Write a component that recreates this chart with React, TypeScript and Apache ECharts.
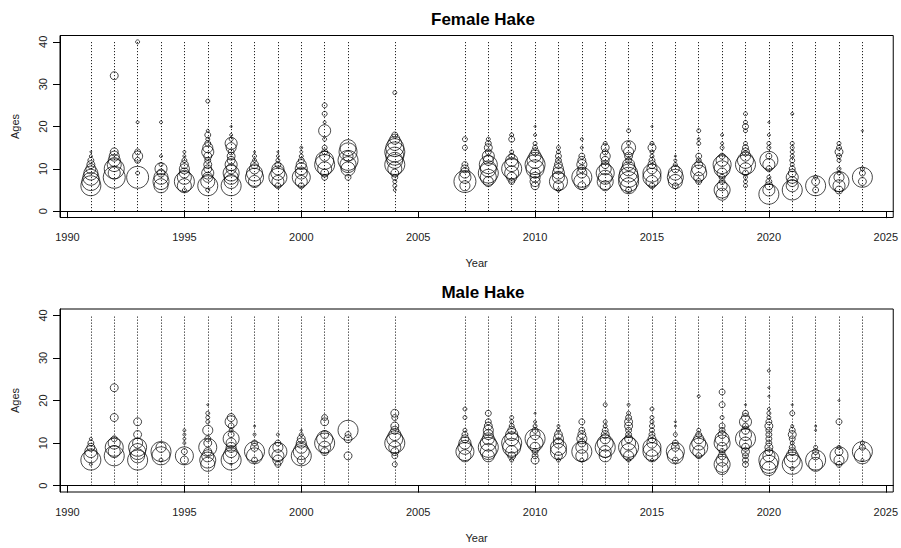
import React, { useEffect, useRef } from "react";
import * as echarts from "echarts";

type YearComp = [number, [number, number][]];

const xTicks = [1990, 1995, 2000, 2005, 2010, 2015, 2020, 2025];
const yTicks = [0, 10, 20, 30, 40];
const lineYears = [1991, 1992, 1993, 1994, 1995, 1996, 1997, 1998, 1999, 2000, 2001, 2002, 2004,
  2007, 2008, 2009, 2010, 2011, 2012, 2013, 2014, 2015, 2016, 2017, 2018, 2019, 2020, 2021, 2022, 2023, 2024];

// [year, [[age, proportion], ...]]
const femaleComps: YearComp[] = [
  [1991, [[6, .227], [7, .184], [8, .145], [9, .111], [10, .057], [11, .036], [12, .02], [13, .005], [14, .002]]],
  [1992, [[8, .274], [9, .082], [10, .227], [11, .111], [12, .082], [13, .057], [14, .036], [32, .036]]],
  [1993, [[8, .274], [9, .009], [12, .02], [13, .057], [14, .02], [21, .005], [40, .009]]],
  [1994, [[6, .111], [7, .145], [8, .111], [9, .036], [10, .082], [11, .009], [13, .005], [21, .005]]],
  [1995, [[5, .009], [6, .111], [7, .227], [8, .111], [9, .057], [10, .057], [11, .036], [12, .014], [13, .005], [14, .005]]],
  [1996, [[5, .009], [6, .227], [7, .111], [8, .057], [9, .082], [10, .036], [11, .036], [12, .02], [13, .036], [14, .082], [15, .057], [16, .02], [17, .009], [18, .02], [19, .005], [26, .009]]],
  [1997, [[6, .227], [7, .111], [8, .111], [9, .145], [10, .057], [11, .082], [12, .036], [13, .036], [14, .02], [15, .057], [16, .082], [17, .009], [18, .005], [20, .002]]],
  [1998, [[7, .082], [8, .184], [9, .145], [10, .057], [11, .036], [12, .009], [13, .009], [14, .002]]],
  [1999, [[6, .02], [7, .082], [8, .184], [9, .111], [10, .082], [11, .02], [12, .009], [13, .005], [14, .002]]],
  [2000, [[6, .02], [7, .082], [8, .184], [9, .082], [10, .082], [11, .057], [12, .02], [13, .009], [14, .005], [15, .005]]],
  [2001, [[8, .02], [9, .036], [10, .111], [11, .227], [12, .184], [13, .057], [14, .02], [15, .014], [17, .009], [19, .082], [21, .005], [23, .014], [25, .014]]],
  [2002, [[8, .02], [10, .111], [11, .145], [12, .227], [13, .057], [14, .184], [15, .145]]],
  [2004, [[5, .005], [6, .009], [7, .009], [8, .02], [9, .036], [10, .111], [11, .227], [12, .145], [13, .184], [14, .227], [15, .184], [16, .111], [17, .057], [18, .02], [28, .009]]],
  [2007, [[6, .057], [7, .274], [8, .082], [9, .057], [10, .036], [11, .02], [15, .014], [17, .014]]],
  [2008, [[7, .057], [8, .145], [9, .227], [10, .145], [11, .184], [12, .057], [13, .082], [14, .02], [15, .036], [16, .02], [17, .009]]],
  [2009, [[7, .02], [8, .057], [9, .111], [10, .227], [11, .111], [12, .082], [13, .02], [14, .009], [17, .02], [18, .009]]],
  [2010, [[6, .036], [7, .057], [8, .057], [9, .057], [10, .184], [11, .227], [12, .145], [13, .082], [14, .036], [15, .014], [16, .009], [18, .005], [20, .002]]],
  [2011, [[5, .009], [6, .057], [7, .184], [8, .082], [9, .082], [10, .057], [11, .036], [12, .02], [13, .02], [14, .009], [15, .009]]],
  [2012, [[6, .036], [7, .145], [8, .227], [9, .057], [10, .036], [11, .057], [12, .036], [13, .02], [15, .005], [17, .005]]],
  [2013, [[6, .057], [7, .145], [8, .111], [9, .184], [10, .082], [11, .036], [12, .036], [13, .057], [14, .02], [15, .036], [16, .009]]],
  [2014, [[5, .02], [6, .145], [7, .227], [8, .227], [9, .184], [10, .111], [11, .082], [12, .02], [13, .036], [14, .057], [15, .111], [16, .009], [19, .009]]],
  [2015, [[6, .02], [7, .082], [8, .184], [9, .184], [10, .057], [11, .036], [12, .02], [13, .009], [14, .009], [15, .036], [16, .009], [20, .002]]],
  [2016, [[6, .02], [7, .111], [8, .145], [9, .111], [10, .036], [11, .009], [12, .005], [13, .002]]],
  [2017, [[7, .02], [8, .057], [9, .145], [10, .111], [11, .036], [12, .014], [13, .02], [16, .009], [17, .005], [19, .009]]],
  [2018, [[4, .082], [5, .145], [6, .057], [7, .02], [8, .02], [9, .057], [10, .145], [11, .184], [12, .082], [13, .02], [15, .009], [16, .005], [18, .005]]],
  [2019, [[6, .009], [7, .009], [8, .009], [9, .02], [10, .082], [11, .227], [12, .145], [13, .057], [14, .036], [15, .02], [16, .009], [19, .009], [20, .02], [21, .009], [23, .009]]],
  [2020, [[4, .227], [5, .082], [6, .036], [7, .02], [8, .009], [10, .02], [11, .082], [12, .184], [13, .02], [15, .009], [16, .009], [18, .005], [21, .002]]],
  [2021, [[5, .227], [6, .082], [7, .057], [8, .082], [9, .036], [10, .02], [11, .009], [12, .014], [13, .009], [14, .009], [15, .009], [16, .009], [23, .005]]],
  [2022, [[5, .02], [6, .227], [7, .036], [8, .009]]],
  [2023, [[5, .036], [6, .082], [7, .227], [8, .057], [9, .009], [10, .009], [12, .009], [13, .014], [14, .036], [15, .014], [16, .009]]],
  [2024, [[7, .036], [8, .227], [9, .02], [10, .009], [19, .002]]],
];

const maleComps: YearComp[] = [
  [1991, [[5, .005], [6, .227], [7, .111], [8, .082], [9, .036], [10, .02], [11, .005]]],
  [1992, [[7, .227], [8, .082], [9, .184], [10, .082], [11, .02], [16, .036], [23, .036]]],
  [1993, [[6, .227], [7, .111], [8, .145], [9, .184], [10, .057], [12, .036], [15, .036]]],
  [1994, [[6, .009], [7, .184], [8, .227], [9, .057]]],
  [1995, [[6, .036], [7, .184], [8, .02], [10, .005], [11, .005], [12, .005], [13, .005]]],
  [1996, [[5, .111], [6, .145], [7, .082], [8, .036], [9, .184], [10, .036], [11, .02], [13, .057], [15, .009], [16, .009], [17, .009], [19, .002]]],
  [1997, [[5, .002], [6, .227], [7, .145], [8, .082], [9, .057], [10, .057], [11, .145], [12, .02], [13, .009], [14, .02], [15, .082], [16, .036]]],
  [1998, [[6, .02], [7, .145], [8, .227], [9, .036], [10, .02], [12, .005], [14, .002]]],
  [1999, [[5, .02], [6, .057], [7, .082], [8, .184], [9, .057], [10, .02], [12, .005]]],
  [2000, [[6, .036], [7, .227], [8, .145], [9, .082], [10, .057], [11, .036], [12, .009], [13, .002]]],
  [2001, [[8, .036], [9, .082], [10, .227], [11, .145], [12, .036], [15, .036], [16, .02]]],
  [2002, [[7, .036], [11, .036], [12, .02], [13, .227]]],
  [2004, [[5, .014], [7, .02], [8, .036], [9, .082], [10, .227], [11, .145], [12, .082], [13, .036], [14, .036], [16, .02], [17, .036]]],
  [2007, [[7, .082], [8, .184], [9, .111], [10, .082], [11, .036], [12, .02], [13, .009], [16, .009], [18, .009]]],
  [2008, [[7, .082], [8, .145], [9, .227], [10, .145], [11, .082], [12, .057], [13, .057], [14, .036], [15, .02], [17, .02]]],
  [2009, [[6, .009], [7, .036], [8, .082], [9, .184], [10, .227], [11, .111], [12, .082], [13, .036], [14, .014], [15, .009], [16, .009]]],
  [2010, [[6, .036], [7, .02], [8, .02], [9, .057], [10, .145], [11, .227], [12, .057], [13, .02], [14, .009], [15, .005], [17, .002]]],
  [2011, [[6, .009], [7, .036], [8, .145], [9, .145], [10, .057], [11, .057], [12, .036], [13, .009], [14, .005]]],
  [2012, [[6, .009], [7, .082], [8, .227], [9, .082], [10, .036], [11, .057], [12, .036], [13, .02], [15, .02]]],
  [2013, [[7, .082], [8, .082], [9, .227], [10, .145], [11, .057], [12, .036], [13, .02], [14, .009], [15, .009], [19, .009]]],
  [2014, [[6, .009], [7, .057], [8, .145], [9, .227], [10, .111], [11, .036], [12, .02], [13, .02], [14, .036], [15, .036], [16, .02], [17, .009], [19, .005]]],
  [2015, [[6, .005], [7, .082], [8, .184], [9, .184], [10, .057], [11, .036], [12, .02], [13, .014], [14, .014], [15, .009], [16, .009], [18, .009]]],
  [2016, [[6, .02], [7, .145], [8, .184], [9, .036], [10, .02], [12, .009], [14, .002], [15, .002]]],
  [2017, [[7, .02], [8, .082], [9, .184], [10, .111], [11, .057], [12, .02], [13, .009], [21, .005]]],
  [2018, [[4, .082], [5, .145], [6, .082], [7, .036], [8, .02], [9, .057], [10, .145], [11, .111], [12, .036], [13, .02], [14, .02], [16, .009], [19, .02], [22, .02]]],
  [2019, [[5, .02], [6, .02], [7, .02], [8, .036], [9, .036], [10, .082], [11, .227], [12, .082], [13, .036], [14, .02], [15, .082], [16, .036], [17, .02], [19, .002]]],
  [2020, [[4, .111], [5, .184], [6, .227], [7, .082], [8, .036], [9, .036], [10, .02], [11, .02], [12, .02], [13, .02], [14, .036], [15, .02], [16, .009], [17, .009], [18, .005], [21, .002], [23, .002], [27, .005]]],
  [2021, [[4, .009], [5, .227], [6, .145], [7, .082], [8, .036], [9, .02], [10, .009], [11, .02], [12, .036], [13, .02], [14, .005], [17, .014], [19, .002]]],
  [2022, [[5, .111], [6, .227], [7, .036], [8, .02], [9, .009], [13, .002], [14, .002]]],
  [2023, [[5, .02], [6, .057], [7, .184], [8, .036], [9, .009], [15, .02], [20, .002]]],
  [2024, [[6, .005], [7, .145], [8, .227], [9, .02], [10, .009]]],
];

const FONT = "'Liberation Sans', Arial, Helvetica, sans-serif";
const BUBBLE = 42;
const LABEL_COLOR = "#222";

function flatten(comps: YearComp[]) {
  return comps.flatMap(([yr, pairs]) => pairs.map(([a, p]) => [yr, a, p]));
}

function panelAxes(idx: number) {
  const x = {
    gridIndex: idx, type: "value", min: 1989.68, max: 2025.32,
    axisLine: { show: true, lineStyle: { color: "#000", width: 1 } },
    splitLine: { show: false },
    axisTick: { show: true, customValues: xTicks, length: 7, lineStyle: { color: "#000" } },
    axisLabel: {
      customValues: xTicks, margin: 14, fontSize: 11, color: LABEL_COLOR, fontFamily: FONT,
      formatter: (v: number) => String(v),
    },
    name: "Year", nameLocation: "middle", nameGap: 40,
    nameTextStyle: { fontSize: 11, color: LABEL_COLOR, fontFamily: FONT },
  };
  const y = {
    gridIndex: idx, type: "value", min: -1.5, max: 41.5,
    axisLine: { show: true, lineStyle: { color: "#000", width: 1 } },
    splitLine: { show: false },
    axisTick: { show: true, customValues: yTicks, length: 7, lineStyle: { color: "#000" } },
    axisLabel: { show: false },
    name: "Ages", nameLocation: "middle", nameGap: 40, nameRotate: 90,
    nameTextStyle: { fontSize: 11, color: LABEL_COLOR, fontFamily: FONT },
  };
  return { x, y };
}

function panelSeries(idx: number, comps: YearComp[]) {
  return {
    type: "scatter", xAxisIndex: idx, yAxisIndex: idx,
    data: flatten(comps),
    symbol: "circle",
    symbolSize: (v: number[]) => BUBBLE * Math.sqrt(v[2]),
    itemStyle: { color: "rgba(0,0,0,0)", borderColor: "#000", borderWidth: 0.9 },
    silent: true,
    markLine: {
      silent: true, symbol: ["none", "none"], label: { show: false },
      lineStyle: { color: "#000", type: [1, 2], width: 1 },
      data: lineYears.map((yr) => [{ coord: [yr, 0] }, { coord: [yr, 40] }]),
    },
  };
}

export default function App() {
  const ref = useRef<HTMLDivElement>(null);
  useEffect(() => {
    if (!ref.current) return;
    const chart = echarts.init(ref.current, null, { renderer: "svg" });
    const a0 = panelAxes(0);
    const a1 = panelAxes(1);
    chart.setOption({
      animation: false,
      backgroundColor: "#fff",
      title: [
        { text: "Female Hake", left: 478, top: 6, textAlign: "center", textStyle: { fontSize: 17, fontWeight: "bold", color: "#000", fontFamily: FONT } },
        { text: "Male Hake", left: 478, top: 279, textAlign: "center", textStyle: { fontSize: 17, fontWeight: "bold", color: "#000", fontFamily: FONT } },
      ],
      grid: [
        { left: 60, top: 35.5, width: 836, height: 182, show: true, borderColor: "#000", borderWidth: 1, backgroundColor: "transparent" },
        { left: 60, top: 309, width: 836, height: 183, show: true, borderColor: "#000", borderWidth: 1, backgroundColor: "transparent" },
      ],
      xAxis: [a0.x, a1.x],
      yAxis: [a0.y, a1.y],
      series: [panelSeries(0, femaleComps), panelSeries(1, maleComps)],
    });
    // rotated y tick labels (R style), placed through the axis scale
    const elements: any[] = [];
    [0, 1].forEach((gi) => {
      yTicks.forEach((v) => {
        const py = chart.convertToPixel({ yAxisIndex: gi }, v) as number;
        elements.push({
          type: "text", x: 43, y: py, rotation: Math.PI / 2, silent: true,
          style: { text: String(v), fontSize: 11, fontFamily: FONT, fill: LABEL_COLOR, align: "center", verticalAlign: "middle" },
        });
      });
    });
    chart.setOption({ graphic: elements });
    return () => chart.dispose();
  }, []);
  return <div ref={ref} style={{ position: "fixed", left: 0, top: 0, width: 901, height: 548 }} />;
}
